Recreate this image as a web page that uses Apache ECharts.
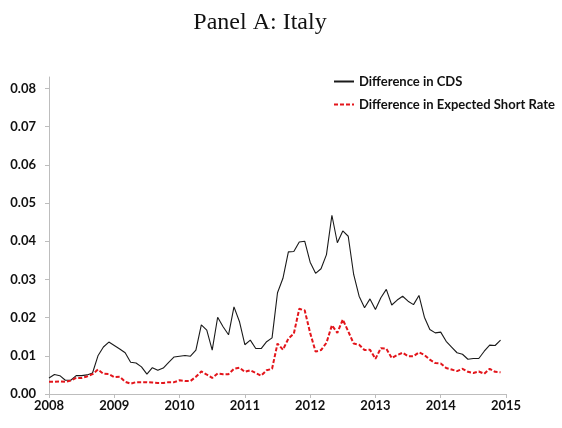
<!DOCTYPE html>
<html>
<head>
<meta charset="utf-8">
<script src="https://cdn.jsdelivr.net/npm/echarts@6/dist/echarts.min.js"></script>
<style>
  html, body { margin: 0; padding: 0; background: #fff; }
  #chart { width: 562px; height: 428px; }
</style>
</head>
<body>
<div id="chart"></div>
<script>
// monthly observations, Jan 2008 .. Dec 2014
const startYear = 2008
const nMonths = 84

const cdsDiff = [
  0.0042, 0.0051, 0.0048, 0.0036, 0.0036, 0.0048, 0.0048, 0.0050, 0.0055, 0.0100, 0.0123, 0.0136,
  0.0127, 0.0118, 0.0108, 0.0083, 0.0081, 0.0071, 0.0052, 0.0069, 0.0062, 0.0068, 0.0083, 0.0097,
  0.0099, 0.0101, 0.0099, 0.0115, 0.0181, 0.0167, 0.0115, 0.0201, 0.0176, 0.0155, 0.0228, 0.0190,
  0.0129, 0.0141, 0.0119, 0.0119, 0.0137, 0.0147, 0.0265, 0.0303, 0.0372, 0.0373, 0.0398, 0.0400,
  0.0345, 0.0316, 0.0328, 0.0365, 0.0468, 0.0396, 0.0427, 0.0413, 0.0313, 0.0256, 0.0226, 0.0249,
  0.0221, 0.0252, 0.0274, 0.0233, 0.0246, 0.0256, 0.0243, 0.0234, 0.0258, 0.0201, 0.0169, 0.0160,
  0.0162, 0.0138, 0.0123, 0.0108, 0.0104, 0.0091, 0.0093, 0.0093, 0.0112, 0.0128, 0.0127, 0.0141
]

const shortRateDiff = [
  0.0032, 0.0032, 0.0033, 0.0032, 0.0035, 0.0042, 0.0042, 0.0046, 0.0052, 0.0064, 0.0053, 0.0052,
  0.0044, 0.0045, 0.0032, 0.0027, 0.0031, 0.0031, 0.0031, 0.0030, 0.0029, 0.0029, 0.0031, 0.0031,
  0.0036, 0.0034, 0.0034, 0.0045, 0.0059, 0.0051, 0.0042, 0.0054, 0.0052, 0.0052, 0.0066, 0.0069,
  0.0058, 0.0062, 0.0055, 0.0048, 0.0062, 0.0066, 0.0132, 0.0116, 0.0145, 0.0158, 0.0223, 0.0219,
  0.0160, 0.0111, 0.0115, 0.0134, 0.0180, 0.0160, 0.0195, 0.0164, 0.0132, 0.0129, 0.0115, 0.0116,
  0.0092, 0.0120, 0.0119, 0.0094, 0.0102, 0.0108, 0.0099, 0.0099, 0.0109, 0.0102, 0.0090, 0.0081,
  0.0080, 0.0068, 0.0064, 0.0060, 0.0066, 0.0058, 0.0055, 0.0059, 0.0053, 0.0066, 0.0058, 0.0057
]

const yTicks = [0, 0.01, 0.02, 0.03, 0.04, 0.05, 0.06, 0.07, 0.08]
const seriesNames = ['Difference in CDS', 'Difference in Expected Short Rate']

const months = []
for (let i = 0; i < nMonths; i++) months.push(startYear + i / 12)

const pairs = vals => vals.map((v, i) => [months[i], v])

const axisGrey = '#bdbdbd'
const labelFont = 'Lato, "Open Sans", sans-serif'

const chart = echarts.init(document.getElementById('chart'))
chart.setOption({
  animation: false,
  title: {
    text: 'Panel A: Italy',
    left: 255,
    textAlign: 'center',
    top: 6,
    textStyle: {
      fontFamily: '"Liberation Serif", serif',
      fontWeight: 'normal',
      fontSize: 24,
      color: '#111'
    }
  },
  legend: {
    orient: 'vertical',
    left: 333,
    top: 75,
    padding: 0,
    itemWidth: 20,
    itemHeight: 14,
    itemGap: 10,
    itemStyle: { opacity: 0 },
    textStyle: {
      fontFamily: labelFont,
      fontWeight: 'bold',
      fontSize: 13,
      color: '#111'
    },
    data: seriesNames
  },
  grid: {
    left: 49,
    right: 56,
    top: 77,
    bottom: 34
  },
  xAxis: {
    type: 'value',
    min: 2008,
    max: 2015,
    interval: 1,
    splitLine: { show: false },
    axisLine: { lineStyle: { color: axisGrey, width: 1 } },
    axisTick: { length: 4, lineStyle: { color: axisGrey } },
    axisLabel: {
      margin: 5,
      fontFamily: labelFont,
      fontWeight: 'bold',
      fontSize: 13,
      color: '#111',
      formatter: v => String(v)
    }
  },
  yAxis: {
    type: 'value',
    min: 0,
    max: 0.083,
    splitLine: { show: false },
    axisLine: { show: true, lineStyle: { color: axisGrey, width: 1 } },
    axisTick: { show: true, length: 4, customValues: yTicks, lineStyle: { color: axisGrey } },
    axisLabel: {
      customValues: yTicks,
      margin: 13,
      fontFamily: labelFont,
      fontWeight: 'bold',
      fontSize: 13,
      color: '#111',
      formatter: v => v.toFixed(2)
    }
  },
  series: [
    {
      name: seriesNames[0],
      type: 'line',
      symbol: 'none',
      data: pairs(cdsDiff),
      lineStyle: { color: '#1a1a1a', width: 1.1 },
      itemStyle: { color: '#1a1a1a' }
    },
    {
      name: seriesNames[1],
      type: 'line',
      symbol: 'none',
      data: pairs(shortRateDiff),
      lineStyle: { color: '#e3151b', width: 2, type: [4, 2] },
      itemStyle: { color: '#e3151b' }
    }
  ]
})
</script>
</body>
</html>
